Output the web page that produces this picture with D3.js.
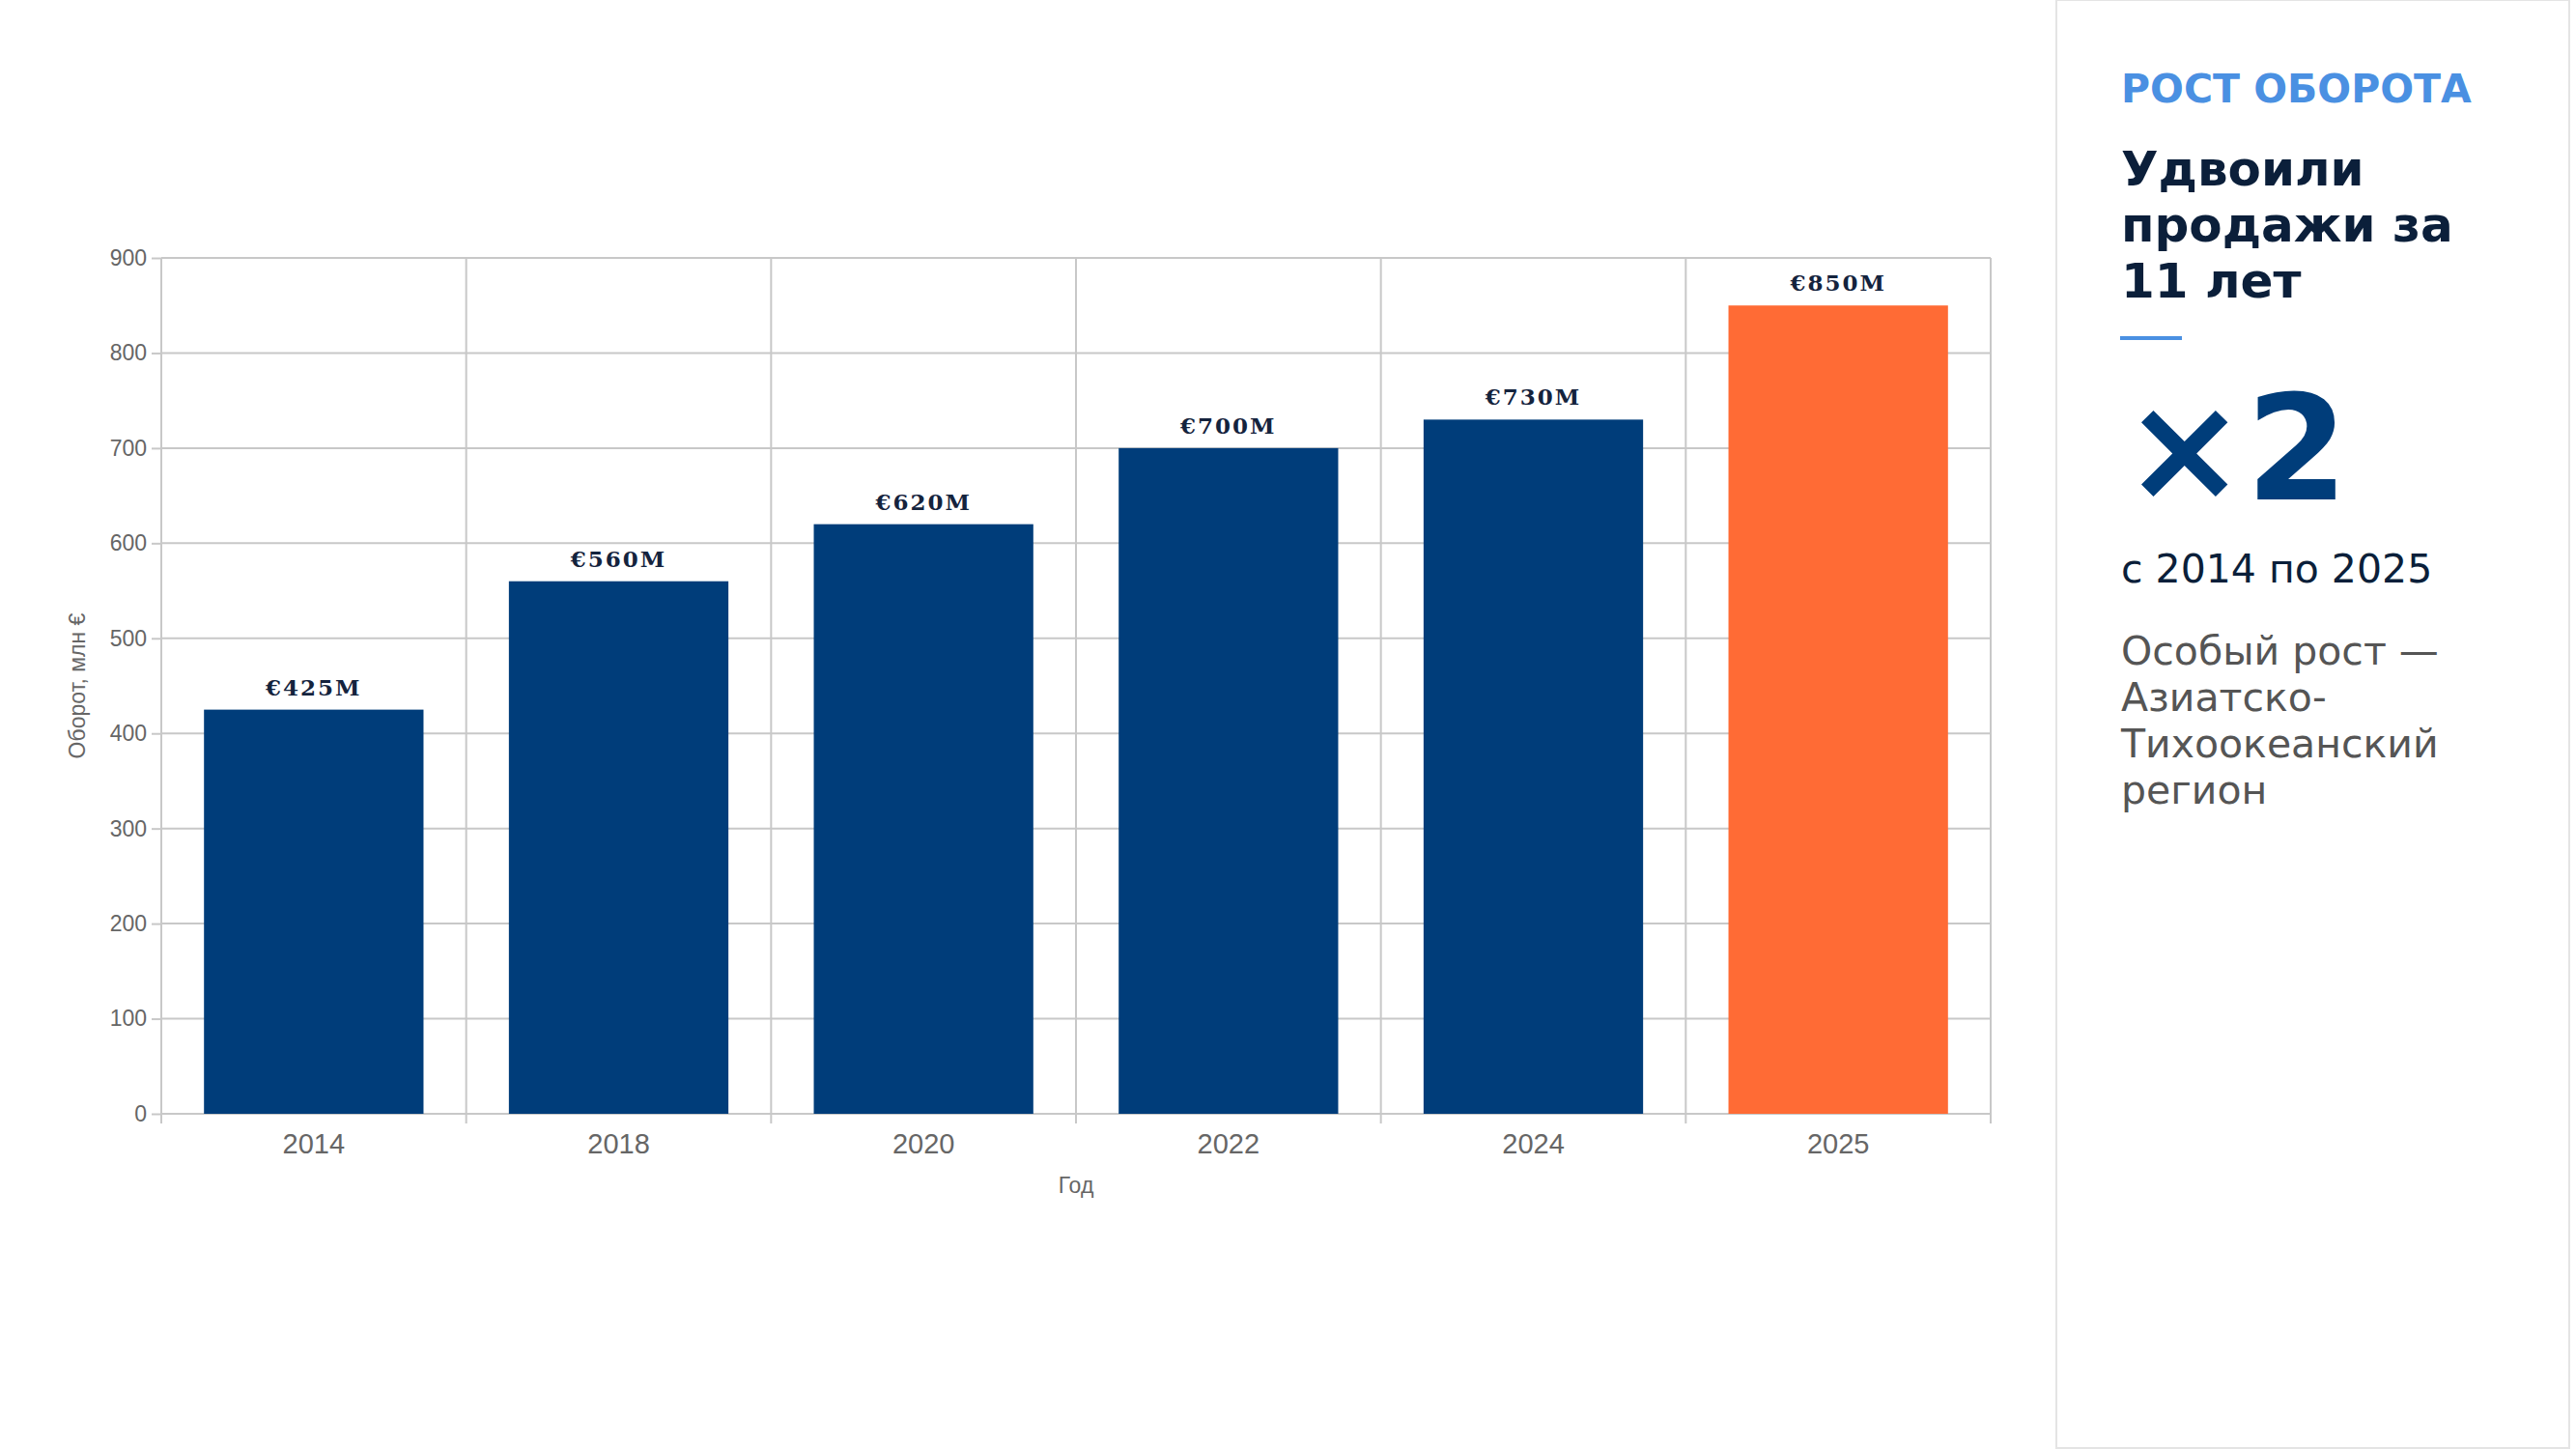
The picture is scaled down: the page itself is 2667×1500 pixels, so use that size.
<!DOCTYPE html>
<html>
<head>
<meta charset="utf-8">
<script src="https://cdn.jsdelivr.net/npm/d3@7"></script>
<style>
  html, body { margin: 0; padding: 0; background: #fff; overflow: hidden; }
  svg { display: block; }
</style>
</head>
<body>
<script>
const years = ["2014", "2018", "2020", "2022", "2024", "2025"];
const turnover = [425, 560, 620, 700, 730, 850];
const valueLabels = ["€425M", "€560M", "€620M", "€700M", "€730M", "€850M"];
const yTicks = [0, 100, 200, 300, 400, 500, 600, 700, 800, 900];
const highlightYear = "2025";

const width = 2667;
const height = 1500;
const margin = { top: 267, right: 606, bottom: 347, left: 167 };
const innerWidth = width - margin.left - margin.right;
const innerHeight = height - margin.top - margin.bottom;

const colors = {
  bar: "#003d7a",
  highlight: "#ff6b35",
  label: "#14233d",
  grid: "#c8c8c8",
  axisText: "#666666",
  navy: "#0b1f3a",
  accent: "#4a90e2",
  muted: "#555555",
  panelBorder: "#e4e4e4",
};

const sans = "'Liberation Sans', Arial, sans-serif";
const deja = "'DejaVu Sans', sans-serif";
const serif = "'DejaVu Serif', 'Liberation Serif', serif";

const svg = d3.select("body").append("svg")
  .attr("width", width)
  .attr("height", height)
  .attr("viewBox", `0 0 ${width} ${height}`);

svg.append("rect").attr("width", width).attr("height", height).attr("fill", "#fff");

const rows = years.map((year, i) => ({ year, value: turnover[i], label: valueLabels[i] }));

const x = d3.scaleBand().domain(years).range([0, innerWidth]).padding(0);
const y = d3.scaleLinear().domain([0, 900]).range([innerHeight, 0]);
const barInset = x.bandwidth() * 0.14;

const g = svg.append("g").attr("transform", `translate(${margin.left},${margin.top})`);

// horizontal grid
g.append("g").selectAll("line").data(yTicks).join("line")
  .attr("x1", 0).attr("x2", innerWidth)
  .attr("y1", d => y(d)).attr("y2", d => y(d))
  .attr("stroke", colors.grid).attr("stroke-width", 2);

// vertical grid at category boundaries
const bounds = years.map(d => x(d)).concat([innerWidth]);
g.append("g").selectAll("line").data(bounds).join("line")
  .attr("x1", d => d).attr("x2", d => d)
  .attr("y1", 0).attr("y2", innerHeight + 10)
  .attr("stroke", colors.grid).attr("stroke-width", 2);

// y axis
g.append("g")
  .call(d3.axisLeft(y).tickValues(yTicks).tickSize(10).tickPadding(5))
  .call(a => a.select(".domain").remove())
  .call(a => a.selectAll(".tick line").attr("stroke", colors.grid).attr("stroke-width", 2))
  .call(a => a.selectAll("text").attr("fill", colors.axisText)
    .attr("font-family", sans).attr("font-size", 23));

// x axis labels
g.append("g").attr("transform", `translate(0,${innerHeight})`)
  .call(d3.axisBottom(x).tickSize(0).tickPadding(20))
  .call(a => a.select(".domain").remove())
  .call(a => a.selectAll("text").attr("fill", colors.axisText)
    .attr("font-family", sans).attr("font-size", 29));

// bars
g.append("g").selectAll("rect").data(rows).join("rect")
  .attr("x", d => x(d.year) + barInset)
  .attr("width", x.bandwidth() - 2 * barInset)
  .attr("y", d => y(d.value))
  .attr("height", d => innerHeight - y(d.value))
  .attr("fill", d => d.year === highlightYear ? colors.highlight : colors.bar);

// value labels
g.append("g").selectAll("text").data(rows).join("text")
  .attr("x", d => x(d.year) + x.bandwidth() / 2)
  .attr("y", d => y(d.value) - 15)
  .attr("text-anchor", "middle")
  .attr("fill", colors.label)
  .attr("font-family", serif)
  .attr("font-weight", 700)
  .attr("font-size", 23)
  .attr("letter-spacing", 2)
  .text(d => d.label);

// axis titles
svg.append("text")
  .attr("x", margin.left + innerWidth / 2)
  .attr("y", 1235)
  .attr("text-anchor", "middle")
  .attr("fill", colors.axisText)
  .attr("font-family", sans)
  .attr("font-size", 23)
  .text("Год");

svg.append("text")
  .attr("transform", `translate(88,${margin.top + innerHeight / 2}) rotate(-90)`)
  .attr("text-anchor", "middle")
  .attr("fill", colors.axisText)
  .attr("font-family", sans)
  .attr("font-size", 23)
  .text("Оборот, млн €");

// side panel
const panel = svg.append("g");
panel.append("rect")
  .attr("x", 2129).attr("y", 0)
  .attr("width", 531).attr("height", 1499)
  .attr("fill", "#fff")
  .attr("stroke", colors.panelBorder).attr("stroke-width", 2);

const px = 2196;
panel.append("text").attr("x", px).attr("y", 106)
  .attr("fill", colors.accent).attr("font-family", deja)
  .attr("font-weight", 700).attr("font-size", 41)
  .text("РОСТ ОБОРОТА");

["Удвоили", "продажи за", "11 лет"].forEach((line, i) => {
  panel.append("text").attr("x", px).attr("y", 192 + i * 58)
    .attr("fill", colors.navy).attr("font-family", deja)
    .attr("font-weight", 700).attr("font-size", 50)
    .text(line);
});

panel.append("rect").attr("x", 2195).attr("y", 348)
  .attr("width", 64).attr("height", 4).attr("fill", colors.accent);

panel.append("text").attr("x", 2198).attr("y", 517)
  .attr("fill", colors.bar).attr("font-family", deja)
  .attr("font-weight", 700).attr("font-size", 152)
  .text("×2");

panel.append("text").attr("x", px).attr("y", 603)
  .attr("fill", colors.navy).attr("font-family", deja)
  .attr("font-size", 41)
  .text("с 2014 по 2025");

["Особый рост —", "Азиатско-", "Тихоокеанский", "регион"].forEach((line, i) => {
  panel.append("text").attr("x", px).attr("y", 688 + i * 48)
    .attr("fill", colors.muted).attr("font-family", deja)
    .attr("font-size", 41)
    .text(line);
});
</script>
</body>
</html>
